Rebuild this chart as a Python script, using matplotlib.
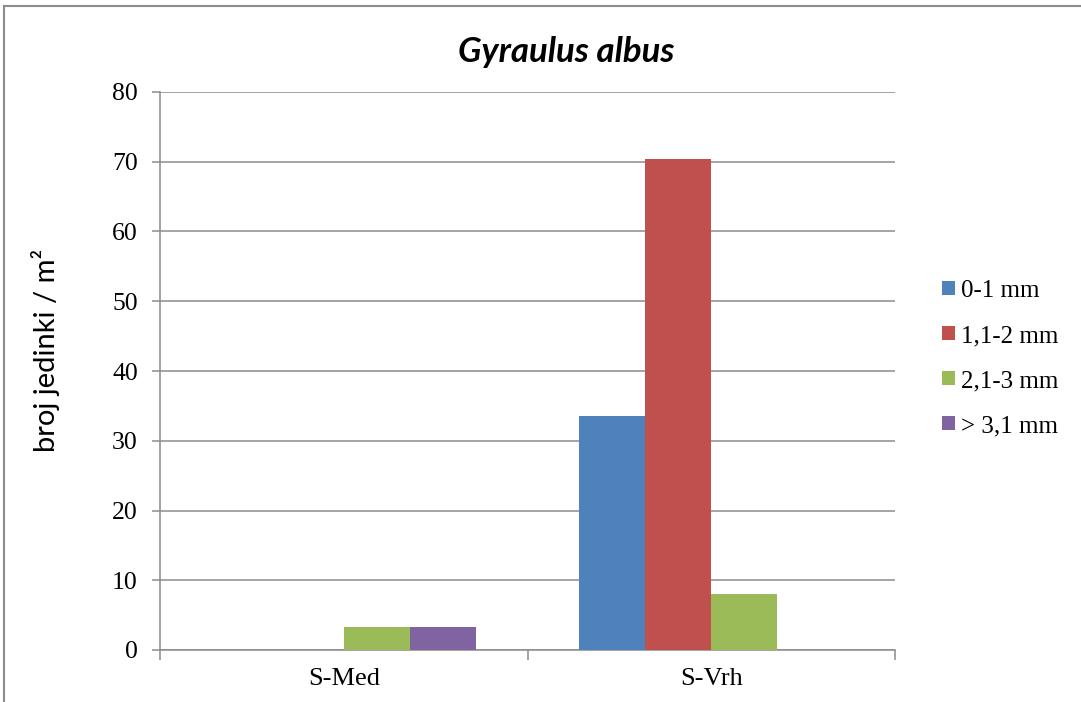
import matplotlib
matplotlib.use("Agg")
import matplotlib.pyplot as plt
from matplotlib.lines import Line2D
from matplotlib.patches import Patch
import numpy as np

categories = ["S-Med", "S-Vrh"]
series_names = ["0-1 mm", "1,1-2 mm", "2,1-3 mm", "> 3,1 mm"]
v_0_1 = [0, 33.6]
v_1_2 = [0, 70.4]
v_2_3 = [3.3, 8.0]
v_3_plus = [3.3, 0]
colors = ["#4F81BD", "#C0504D", "#9BBB59", "#8064A2"]
yticks = [0, 10, 20, 30, 40, 50, 60, 70, 80]

series = [v_0_1, v_1_2, v_2_3, v_3_plus]

W, H = 1081, 702
fig = plt.figure(figsize=(W / 100, H / 100), dpi=100)
ax = fig.add_axes([160 / W, 1 - 650 / H, (895 - 160) / W, (650 - 92) / H])

x = np.arange(len(categories))
bw = 0.18
for i, (vals, c, name) in enumerate(zip(series, colors, series_names)):
    ax.bar(x + (i - 1.5) * bw, vals, width=bw, color=c, label=name, zorder=3)

gc = "#8C8C8C"
ax.set_xlim(-0.5, 1.5)
ax.set_ylim(0, 80)
ax.set_yticks(yticks)
ax.yaxis.grid(True, color=gc, linewidth=1.1, zorder=0)
ax.set_axisbelow(True)
for s in ["top", "right"]:
    ax.spines[s].set_visible(False)
ax.spines["left"].set_color(gc)
ax.spines["bottom"].set_color(gc)
ax.spines["left"].set_linewidth(1.1)
ax.spines["bottom"].set_linewidth(1.1)

serif = "Liberation Serif"
ax.set_xticks(x)
ax.set_xticklabels(categories, fontfamily=serif, fontsize=19)
ax.set_xticks([-0.5, 0.5, 1.5], minor=True)
ax.tick_params(axis="x", which="major", length=0, pad=13)
ax.tick_params(axis="x", which="minor", length=7, color=gc, width=1.1, direction="out")
ax.tick_params(axis="y", length=6, color=gc, width=1.1, direction="out", pad=10)
for lab in ax.get_yticklabels():
    lab.set_fontfamily(serif)
    lab.set_fontsize(18.5)

fig.text(566 / W, 1 - 52 / H, "Gyraulus albus", ha="center", va="center",
         fontfamily="Lato", fontweight="bold", fontstyle="italic", fontsize=25)
fig.text(46 / W, 1 - 350 / H, "broj jedinki / m²", rotation=90, ha="center", va="center",
         fontfamily="Lato", fontsize=21)

handles = [Patch(facecolor=c, edgecolor="none") for c in colors]
fig.legend(handles, series_names, loc="upper left", bbox_to_anchor=(942 / W, 1 - 280 / H),
           frameon=False, prop={"family": serif, "size": 18},
           handlelength=0.52, handleheight=0.52, handletextpad=0.25,
           labelspacing=0.92, borderaxespad=0, borderpad=0)

bc = "#8C8C8C"
fig.add_artist(Line2D([4 / W, 1], [1 - 6 / H, 1 - 6 / H], color=bc, linewidth=1.5, transform=fig.transFigure))
fig.add_artist(Line2D([4 / W, 4 / W], [0, 1 - 6 / H], color=bc, linewidth=1.5, transform=fig.transFigure))

fig.savefig("out.png", dpi=100)
